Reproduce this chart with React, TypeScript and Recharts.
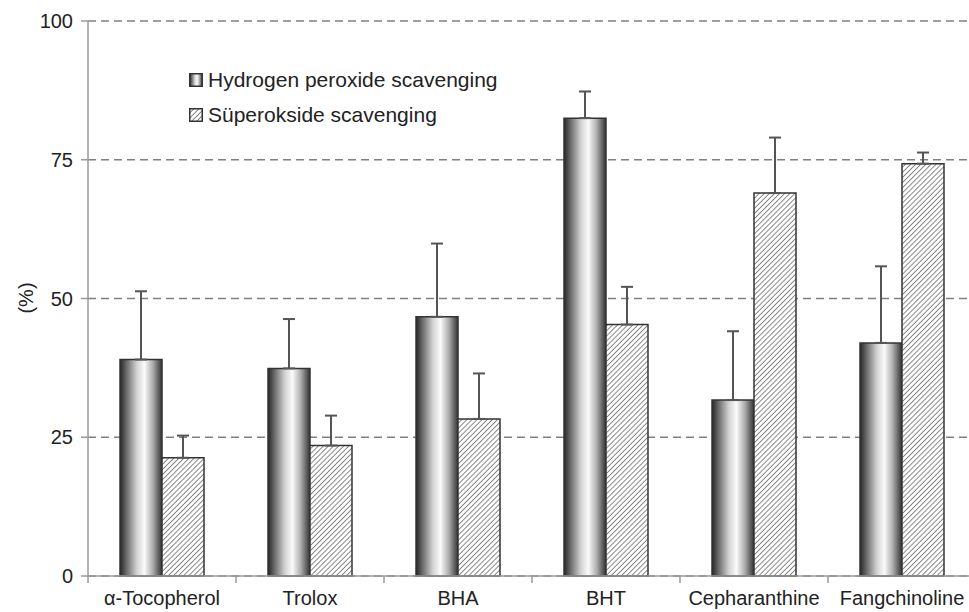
import React from 'react';
import {
  BarChart,
  Bar,
  XAxis,
  YAxis,
  CartesianGrid,
  ErrorBar,
} from 'recharts';

const compounds = ['α-Tocopherol', 'Trolox', 'BHA', 'BHT', 'Cepharanthine', 'Fangchinoline'];
const hydrogenPeroxide = [39, 37.4, 46.7, 82.5, 31.7, 42];
const hydrogenPeroxideSd = [12.3, 8.9, 13.2, 4.8, 12.4, 13.8];
const superoxide = [21.3, 23.5, 28.3, 45.3, 69, 74.3];
const superoxideSd = [4, 5.4, 8.2, 6.8, 10, 2];
const yTicks = [0, 25, 50, 75, 100];
const seriesNames = ['Hydrogen peroxide scavenging', 'Süperokside scavenging'];

const data = compounds.map((name, i) => ({
  name,
  h: hydrogenPeroxide[i],
  hErr: [0, hydrogenPeroxideSd[i]],
  s: superoxide[i],
  sErr: [0, superoxideSd[i]],
}));

const FONT = '"Liberation Sans", Arial, sans-serif';
const TEXT = '#222';
const AXIS = '#9a9a9a';
const BAND = 148; // width of one category band

const CategoryTick = (props: any) => {
  const { x, y, payload } = props;
  return (
    <g>
      <line x1={x - BAND / 2} x2={x - BAND / 2} y1={y} y2={y + 7} stroke={AXIS} strokeWidth={1.5} />
      <text x={x} y={y + 29} textAnchor="middle" fontSize={20} fontFamily={FONT} fill={TEXT}>
        {payload.value}
      </text>
    </g>
  );
};

const LegendBox = () => (
  <div style={{ position: 'absolute', left: 189, top: 62, fontFamily: FONT, fontSize: 21, color: TEXT }}>
    {seriesNames.map((label, i) => (
      <div key={label} style={{ display: 'flex', alignItems: 'center', height: 35, whiteSpace: 'nowrap' }}>
        <svg width={14} height={14} style={{ marginRight: 5 }}>
          <rect
            x={0.75}
            y={0.75}
            width={12.5}
            height={12.5}
            fill={i === 0 ? 'url(#cyl)' : 'url(#hatch)'}
            stroke="#333"
            strokeWidth={1.5}
          />
        </svg>
        <span>{label}</span>
      </div>
    ))}
  </div>
);

const App: React.FC = () => {
  return (
    <div style={{ position: 'absolute', left: 0, top: 0, width: 969, height: 612, overflow: 'hidden', background: '#fff' }}>
      <BarChart
        width={1000}
        height={612}
        data={data}
        margin={{ top: 21, right: 24, left: 0, bottom: 0 }}
        barGap={0}
      >
        <defs>
          <linearGradient id="cyl" x1="0" y1="0" x2="1" y2="0">
            <stop offset="0%" stopColor="#262626" />
            <stop offset="15%" stopColor="#686868" />
            <stop offset="40%" stopColor="#d2d2d2" />
            <stop offset="58%" stopColor="#fbfbfb" />
            <stop offset="78%" stopColor="#adadad" />
            <stop offset="100%" stopColor="#333" />
          </linearGradient>
          <pattern id="hatch" patternUnits="userSpaceOnUse" width={3.6} height={3.6} patternTransform="rotate(45)">
            <rect width={3.6} height={3.6} fill="#fff" />
            <line x1={0} y1={0} x2={0} y2={3.6} stroke="#4a4a4a" strokeWidth={1.3} />
          </pattern>
        </defs>
        <CartesianGrid vertical={false} strokeDasharray="8 5" stroke="#808080" strokeWidth={1.3} />
        <XAxis
          dataKey="name"
          height={36}
          tickSize={0}
          tickMargin={0}
          tickLine={false}
          axisLine={{ stroke: AXIS, strokeWidth: 1.5 }}
          tick={<CategoryTick />}
          interval={0}
        />
        <YAxis
          width={88}
          domain={[0, 100]}
          ticks={yTicks}
          tickSize={7}
          tickMargin={8}
          axisLine={{ stroke: AXIS, strokeWidth: 1.5 }}
          tickLine={{ stroke: AXIS, strokeWidth: 1.5 }}
          tick={{ fontSize: 20, fontFamily: FONT, fill: TEXT }}
          label={{
            content: () => (
              <text
                x={26}
                y={298}
                transform="rotate(-90 26 298)"
                textAnchor="middle"
                dominantBaseline="central"
                fontSize={20}
                fontFamily={FONT}
                fill={TEXT}
              >
                (%)
              </text>
            ),
          }}
        />
        <Bar dataKey="h" barSize={42} fill="url(#cyl)" stroke="#333" strokeWidth={1.5} isAnimationActive={false}>
          <ErrorBar dataKey="hErr" direction="y" width={6} stroke="#555" strokeWidth={2} />
        </Bar>
        <Bar dataKey="s" barSize={42} fill="url(#hatch)" stroke="#333" strokeWidth={1.5} isAnimationActive={false}>
          <ErrorBar dataKey="sErr" direction="y" width={6} stroke="#555" strokeWidth={2} />
        </Bar>
      </BarChart>
      <LegendBox />
    </div>
  );
};

export default App;
